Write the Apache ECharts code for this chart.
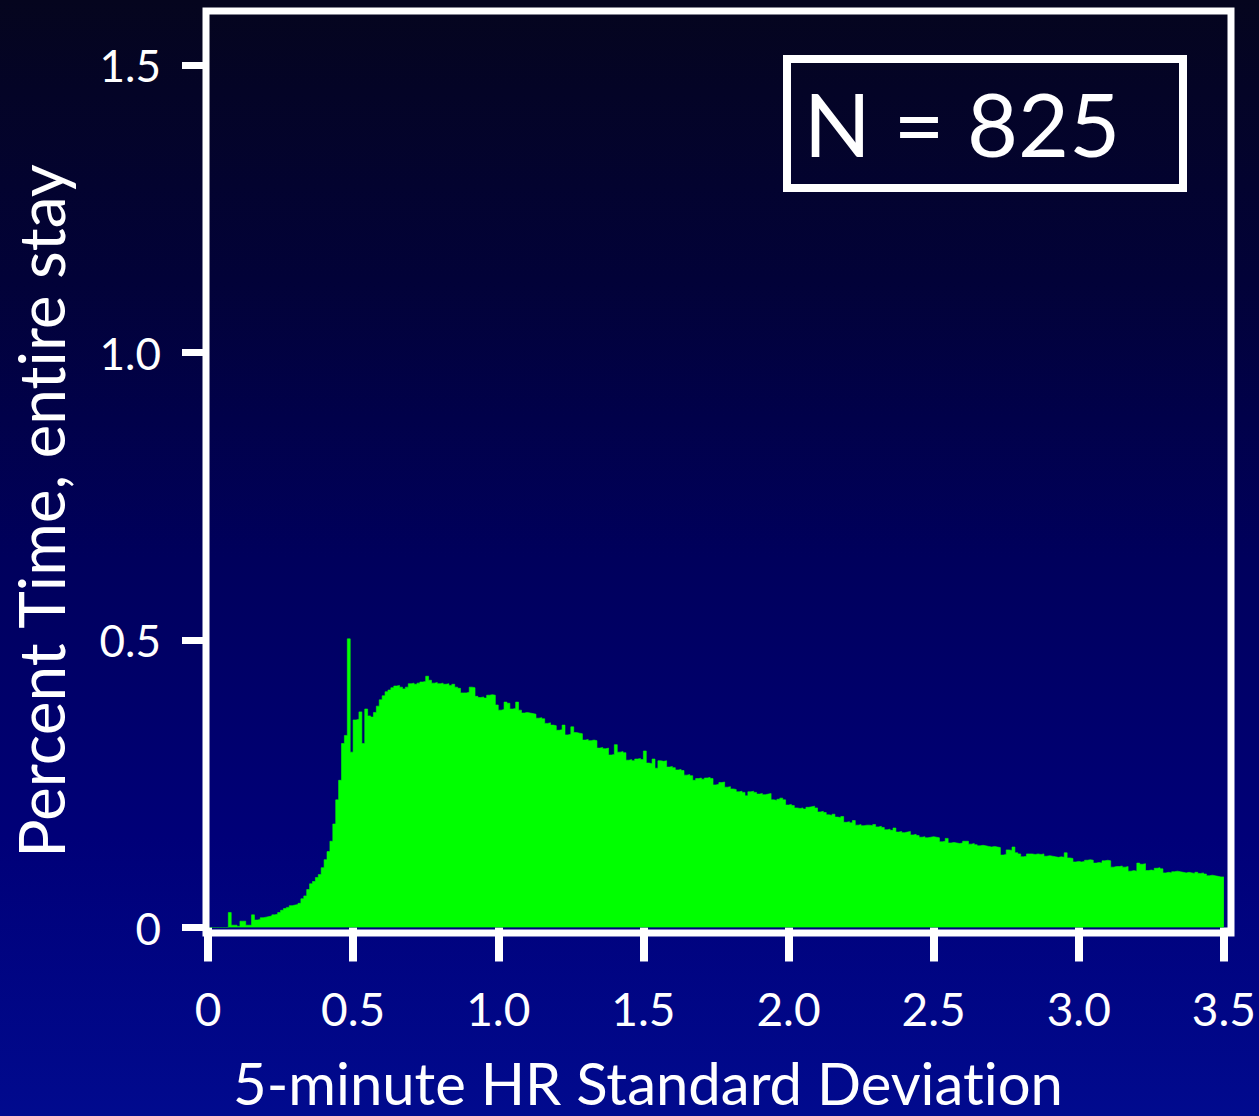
<!DOCTYPE html>
<html>
<head>
<meta charset="utf-8">
<script src="https://cdn.jsdelivr.net/npm/echarts@6/dist/echarts.min.js"></script>
<style>
html,body{margin:0;padding:0;background:#000050;}
#chart{width:1259px;height:1116px;}
#chart text{font-variant-ligatures:none;font-feature-settings:"liga" 0, "clig" 0, "dlig" 0;}
</style>
</head>
<body>
<div id="chart"></div>
<script>
// Histogram bin width (5-minute HR standard deviation)
const binWidth = 0.01;
// Percent time per bin, bins starting at 0.00, 0.01, ... 3.49
const percentTime = [
  0,0,0,0,0,0,0,0.026,0.004,0.004,
  0.002,0.011,0.011,0.004,0.004,0.022,0.013,0.014,0.017,0.018,
  0.019,0.020,0.022,0.023,0.026,0.030,0.033,0.035,0.038,0.039,
  0.040,0.042,0.050,0.055,0.066,0.076,0.080,0.087,0.092,0.104,
  0.118,0.132,0.150,0.180,0.222,0.256,0.320,0.334,0.502,0.305,
  0.361,0.362,0.375,0.320,0.380,0.368,0.366,0.374,0.385,0.396,
  0.403,0.410,0.413,0.417,0.420,0.421,0.418,0.415,0.418,0.424,
  0.425,0.423,0.425,0.427,0.428,0.437,0.430,0.425,0.426,0.424,
  0.425,0.423,0.424,0.421,0.423,0.418,0.416,0.408,0.408,0.409,
  0.418,0.417,0.402,0.400,0.401,0.399,0.404,0.405,0.404,0.387,
  0.378,0.379,0.392,0.390,0.380,0.381,0.392,0.378,0.373,0.374,
  0.373,0.372,0.371,0.364,0.365,0.363,0.355,0.356,0.352,0.351,
  0.343,0.344,0.352,0.335,0.336,0.349,0.339,0.338,0.337,0.326,
  0.327,0.325,0.326,0.325,0.312,0.313,0.311,0.312,0.300,0.301,
  0.318,0.305,0.306,0.304,0.291,0.292,0.290,0.293,0.294,0.292,
  0.307,0.286,0.285,0.293,0.277,0.290,0.289,0.290,0.279,0.280,
  0.278,0.274,0.275,0.273,0.265,0.266,0.264,0.256,0.259,0.260,
  0.258,0.260,0.261,0.259,0.248,0.249,0.252,0.253,0.244,0.245,
  0.241,0.240,0.236,0.237,0.235,0.229,0.236,0.237,0.235,0.232,
  0.233,0.231,0.232,0.233,0.222,0.221,0.223,0.225,0.222,0.213,
  0.214,0.212,0.208,0.207,0.208,0.206,0.209,0.210,0.211,0.208,
  0.201,0.202,0.200,0.196,0.195,0.197,0.192,0.191,0.193,0.183,
  0.184,0.182,0.186,0.178,0.179,0.177,0.178,0.178,0.177,0.179,
  0.175,0.176,0.174,0.170,0.171,0.169,0.173,0.166,0.167,0.165,
  0.166,0.167,0.161,0.162,0.160,0.157,0.158,0.156,0.157,0.158,
  0.157,0.156,0.149,0.150,0.155,0.147,0.148,0.147,0.146,0.147,
  0.150,0.150,0.145,0.146,0.144,0.142,0.143,0.142,0.141,0.140,
  0.141,0.140,0.139,0.126,0.127,0.135,0.134,0.140,0.130,0.128,
  0.123,0.124,0.128,0.128,0.127,0.128,0.127,0.128,0.124,0.125,
  0.124,0.123,0.122,0.123,0.122,0.130,0.121,0.120,0.114,0.115,
  0.114,0.115,0.117,0.118,0.117,0.112,0.113,0.112,0.116,0.117,
  0.116,0.105,0.106,0.106,0.107,0.105,0.106,0.098,0.099,0.098,
  0.112,0.110,0.111,0.099,0.100,0.099,0.103,0.104,0.102,0.095,
  0.096,0.095,0.097,0.098,0.097,0.096,0.095,0.096,0.095,0.094,
  0.096,0.094,0.095,0.093,0.090,0.091,0.090,0.089,0.088,0.088
];
const xTicks = [0, 0.5, 1.0, 1.5, 2.0, 2.5, 3.0, 3.5];
const xTickLabels = ['0', '0.5', '1.0', '1.5', '2.0', '2.5', '3.0', '3.5'];
const yTicks = [0, 0.5, 1.0, 1.5];
const yTickLabels = ['0', '0.5', '1.0', '1.5'];
const xTitle = '5-minute HR Standard Deviation';
const yTitle = 'Percent Time, entire stay';
const nLabel = 'N = 825';

// Histogram outline: each bin value holds from its left edge to the next edge
const stepData = percentTime.map((v, i) => [i * binWidth, v]);
stepData.push([percentTime.length * binWidth, percentTime[percentTime.length - 1]]);

function labelFor(ticks, labels) {
  return function (v) {
    for (let i = 0; i < ticks.length; i++) {
      if (Math.abs(ticks[i] - v) < 1e-6) return labels[i];
    }
    return '';
  };
}

const chart = echarts.init(document.getElementById('chart'), null, {renderer: 'svg'});
const FONT = 'Lato';
chart.setOption({
  animation: false,
  backgroundColor: {
    type: 'linear', x: 0, y: 0, x2: 0, y2: 1,
    colorStops: [
      {offset: 0, color: '#05051e'},
      {offset: 0.25, color: '#020238'},
      {offset: 0.5, color: '#00005c'},
      {offset: 0.75, color: '#000078'},
      {offset: 1, color: '#010a8e'}
    ]
  },
  grid: [
    {left: 208, top: 7.5, width: 1016, height: 920, show: false},
    {left: 206, top: 11, width: 1025, height: 922, show: true, z: 5,
     borderColor: '#ffffff', borderWidth: 7, backgroundColor: 'transparent'}
  ],
  xAxis: [
    {
      gridIndex: 0, type: 'value', min: 0, max: 3.5, interval: 0.5,
      axisLine: {show: false},
      axisTick: {show: true, length: 34, lineStyle: {color: '#ffffff', width: 8}},
      axisLabel: {show: true, margin: 58, color: '#ffffff', fontFamily: FONT, fontSize: 46,
                  formatter: labelFor(xTicks, xTickLabels)},
      splitLine: {show: false}
    },
    {gridIndex: 1, type: 'value', show: false}
  ],
  yAxis: [
    {
      gridIndex: 0, type: 'value', min: 0, max: 1.6,
      axisLine: {show: false},
      axisTick: {show: true, length: 26, customValues: yTicks, lineStyle: {color: '#ffffff', width: 7}},
      axisLabel: {show: true, margin: 47, color: '#ffffff', fontFamily: FONT, fontSize: 44,
                  customValues: yTicks, formatter: labelFor(yTicks, yTickLabels)},
      splitLine: {show: false}
    },
    {gridIndex: 1, type: 'value', show: false}
  ],
  series: [
    {
      type: 'line', xAxisIndex: 0, yAxisIndex: 0,
      data: stepData,
      step: 'end',
      symbol: 'none',
      lineStyle: {width: 0.6, color: '#00ff00'},
      areaStyle: {color: '#00ff00', opacity: 1},
      silent: true
    }
  ],
  graphic: [
    {type: 'text', x: 40, y: 511, rotation: Math.PI / 2, z: 10,
     style: {text: yTitle, fill: '#ffffff', fontFamily: FONT, fontSize: 64, align: 'center', verticalAlign: 'middle'}},
    {type: 'text', x: 648, y: 1082, z: 10,
     style: {text: xTitle, fill: '#ffffff', fontFamily: FONT, fontSize: 58, lineHeight: 58, align: 'center', verticalAlign: 'middle'}},
    {type: 'rect', z: 10, shape: {x: 787, y: 59, width: 396, height: 129},
     style: {fill: 'transparent', stroke: '#ffffff', lineWidth: 8}},
    {type: 'text', x: 962, y: 123, z: 10,
     style: {text: nLabel, fill: '#ffffff', fontFamily: FONT, fontSize: 88, align: 'center', verticalAlign: 'middle'}}
  ]
});
</script>
</body>
</html>
